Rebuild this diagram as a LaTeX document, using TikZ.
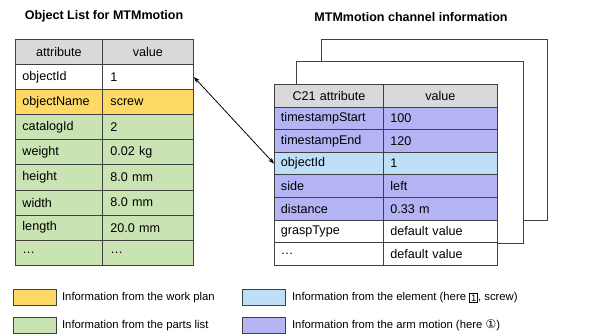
\documentclass[tikz,border=0pt]{standalone}
\usepackage{fontspec}
\setmainfont{Liberation Sans}
\newfontfamily\dejavu{DejaVu Sans}
\usetikzlibrary{arrows.meta}
\definecolor{hdr}{HTML}{D9D9D9}
\definecolor{plan}{HTML}{FFD966}
\definecolor{parts}{HTML}{C9E3B2}
\definecolor{elem}{HTML}{BDDFF8}
\definecolor{arm}{HTML}{B4B4F5}
\definecolor{edge}{HTML}{404040}
\tikzset{
  cell/.style={draw=edge, line width=0.9pt, rectangle, anchor=north west,
    inner xsep=7pt, inner ysep=0pt, align=left, font=\fontsize{12.6}{14}\selectfont},
  hcell/.style={cell, align=center, fill=hdr},
  backframe/.style={draw=edge, line width=1pt, fill=white, rectangle, anchor=north west, inner sep=0pt},
  ttl/.style={font=\bfseries\fontsize{12.5}{14}\selectfont, inner sep=0pt},
  swatch/.style={draw=edge, line width=0.9pt, rectangle, anchor=north west, minimum width=43pt, minimum height=16pt, inner sep=0pt},
  legtext/.style={anchor=west, inner sep=0pt, font=\fontsize{11.3}{13}\selectfont},
  link/.style={<->, >={Stealth[length=6pt,width=4.5pt]}, line width=0.8pt, black}
}
\newcommand\LRow[5]{%
  \node[cell, fill=#3, minimum height=25.1pt, text width=73pt] (#1a) at (15,#2) {#4};
  \node[cell, fill=#3, minimum height=25.1pt, text width=75pt, inner xsep=8pt] (#1b) at (102,#2) {#5};}
\newcommand\RRow[5]{%
  \node[cell, fill=#3, minimum height=22.6pt, text width=96pt, inner xsep=6.5pt] (#1a) at (274,#2) {#4};
  \node[cell, fill=#3, minimum height=22.6pt, text width=100pt] (#1b) at (383,#2) {#5};}
\newcommand\BoxedOne{{\setlength\fboxsep{1.2pt}\setlength\fboxrule{0.6pt}\raisebox{-0.8pt}{\fbox{\fontsize{9.5}{9.5}\selectfont 1}}}}
\begin{document}
\begin{tikzpicture}[x=1pt,y=-1pt]
\useasboundingbox (0,0) rectangle (590,334);
% titles
\node[ttl] (t1) at (104,16) {Object List for MTMmotion};
\node[ttl] (t2) at (411,17) {MTMmotion channel information};
% left table
\node[hcell, minimum height=25.1pt, text width=73pt] (lha) at (15,39) {attribute};
\node[hcell, minimum height=25.1pt, text width=75pt, inner xsep=8pt] (lhb) at (102,39) {value};
\LRow{l1}{64.1}{white}{objectId}{1}
\LRow{l2}{89.2}{plan}{objectName}{screw}
\LRow{l3}{114.3}{parts}{catalogId}{2}
\LRow{l4}{139.4}{parts}{weight}{0.02 kg}
\LRow{l5}{164.5}{parts}{height}{8.0 mm}
\LRow{l6}{189.6}{parts}{width}{8.0 mm}
\LRow{l7}{214.7}{parts}{length}{20.0 mm}
\LRow{l8}{239.8}{parts}{…}{…}
% back frames
\node[backframe, minimum width=226pt, minimum height=181pt] (f3) at (321,39) {};
\node[backframe, minimum width=227pt, minimum height=182pt] (f2) at (296,61) {};
% right table
\node[hcell, minimum height=22.6pt, text width=96pt, inner xsep=6.5pt] (rha) at (274,84) {C21 attribute};
\node[hcell, minimum height=22.6pt, text width=100pt] (rhb) at (383,84) {value};
\RRow{r1}{106.6}{arm}{timestampStart}{100}
\RRow{r2}{129.2}{arm}{timestampEnd}{120}
\RRow{r3}{151.8}{elem}{objectId}{1}
\RRow{r4}{174.4}{arm}{side}{left}
\RRow{r5}{197}{arm}{distance}{0.33 m}
\RRow{r6}{219.6}{white}{graspType}{default value}
\RRow{r7}{242.2}{white}{…}{default value}
% link
\draw[link] (l1b.east) -- (r3a.west);
% legend
\node[swatch, fill=plan] (s1) at (13,289) {};
\node[legtext] (s1t) at ([xshift=5pt]s1.east) {Information from the work plan};
\node[swatch, fill=parts] (s2) at (13,317) {};
\node[legtext] (s2t) at ([xshift=5pt]s2.east) {Information from the parts list};
\node[swatch, fill=elem] (s3) at (242,289) {};
\node[legtext] (s3t) at ([xshift=6pt]s3.east) {Information from the element (here \BoxedOne, screw)};
\node[swatch, fill=arm] (s4) at (242,317) {};
\node[legtext] (s4t) at ([xshift=6pt]s4.east) {Information from the arm motion (here {\dejavu\fontsize{12}{12}\selectfont ①})};
\end{tikzpicture}
\end{document}
